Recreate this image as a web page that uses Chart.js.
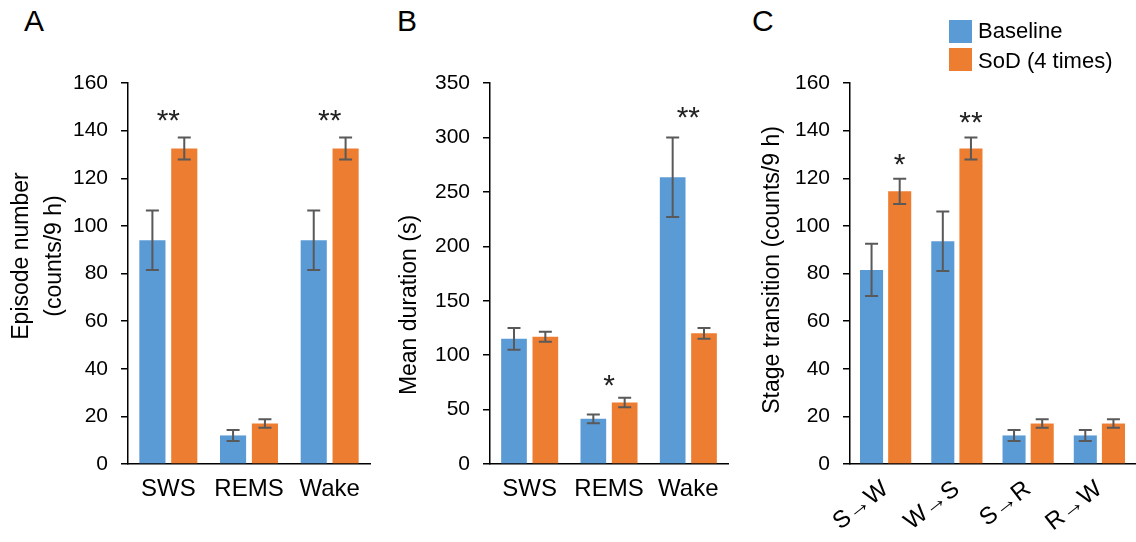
<!DOCTYPE html>
<html>
<head>
<meta charset="utf-8">
<title>Sleep stages</title>
<script src="https://cdn.jsdelivr.net/npm/chart.js@4.4.1/dist/chart.umd.min.js"></script>
<style>
  body { margin: 0; background: #fff; font-family: 'Liberation Sans', Arial, sans-serif; }
  #wrap { position: relative; width: 1136px; height: 542px; overflow: hidden; }
  canvas { position: absolute; top: 0; }
  .letter { position: absolute; top: 6px; font-size: 30px; line-height: 30px; color: #000; }
  .key { position: absolute; left: 949px; width: 23px; height: 23px; }
  .keytext { position: absolute; left: 978px; font-size: 22px; line-height: 22px; color: #000; white-space: nowrap; }
</style>
</head>
<body>
<div id="wrap">
  <div class="letter" style="left:24px">A</div>
  <div class="letter" style="left:397px">B</div>
  <div class="letter" style="left:752px">C</div>

  <canvas id="chartA" width="380" height="542" style="left:0px"></canvas>
  <canvas id="chartB" width="370" height="542" style="left:380px"></canvas>
  <canvas id="chartC" width="386" height="542" style="left:750px"></canvas>

  <div class="key" style="top:20px; background:#5B9BD5"></div>
  <div class="keytext" style="top:20px">Baseline</div>
  <div class="key" style="top:48px; background:#ED7D31"></div>
  <div class="keytext" style="top:50px">SoD (4 times)</div>
</div>

<script>
// colours
const blue = '#5B9BD5';
const orange = '#ED7D31';

// Panel A - episode number
const stageLabels = ['SWS', 'REMS', 'Wake'];
const episodeBaseline = [94, 12, 94];
const episodeBaselineErr = [12.5, 2.3, 12.5];
const episodeSoD = [132.5, 17, 132.5];
const episodeSoDErr = [4.6, 1.8, 4.6];
const episodeStars = ['**', '', '**'];
const episodeStarValues = [147.5, null, 147.5];

// Panel B - mean duration
const durationBaseline = [115, 41.5, 263.5];
const durationBaselineErr = [10, 4, 36.5];
const durationSoD = [117, 56.5, 120];
const durationSoDErr = [4.6, 4.4, 5];
const durationStars = ['', '*', '**'];
const durationStarValues = [null, 79, 325];

// Panel C - stage transitions
const transitionLabels = ['S\u2192W', 'W\u2192S', 'S\u2192R', 'R\u2192W'];
const transitionBaseline = [81.5, 93.5, 12, 12];
const transitionBaselineErr = [11, 12.5, 2.3, 2.3];
const transitionSoD = [114.5, 132.5, 17, 17];
const transitionSoDErr = [5.3, 4.6, 1.8, 1.8];
const transitionStars = ['*', '**', '', ''];
const transitionStarValues = [129, 146.5, null, null];

Chart.defaults.font.family = "'Liberation Sans', Arial, sans-serif";
Chart.defaults.color = '#000';

// draws the +/- error whiskers on top of every bar
const errorBarPlugin = {
    id: 'errorBars',
    afterDatasetsDraw(chart) {
        const ctx = chart.ctx;
        const yScale = chart.scales.y;
        ctx.save();
        ctx.strokeStyle = '#595959';
        ctx.lineWidth = 2;
        chart.data.datasets.forEach((ds, i) => {
            chart.getDatasetMeta(i).data.forEach((bar, j) => {
                const top = yScale.getPixelForValue(ds.data[j] + ds.err[j]);
                const bottom = yScale.getPixelForValue(ds.data[j] - ds.err[j]);
                ctx.beginPath();
                ctx.moveTo(bar.x, top);
                ctx.lineTo(bar.x, bottom);
                ctx.moveTo(bar.x - 6.5, top);
                ctx.lineTo(bar.x + 6.5, top);
                ctx.moveTo(bar.x - 6.5, bottom);
                ctx.lineTo(bar.x + 6.5, bottom);
                ctx.stroke();
            });
        });
        ctx.restore();
    }
};

// significance asterisks, either over the group or over the SoD bar
function starPlugin(texts, values, overSoD) {
    return {
        id: 'stars',
        afterDatasetsDraw(chart) {
            const ctx = chart.ctx;
            const xScale = chart.scales.x;
            const yScale = chart.scales.y;
            const sodBars = chart.getDatasetMeta(1).data;
            ctx.save();
            ctx.fillStyle = '#222';
            ctx.font = "30px 'Liberation Sans', Arial, sans-serif";
            ctx.textAlign = 'center';
            ctx.textBaseline = 'alphabetic';
            texts.forEach((t, i) => {
                if (!t) return;
                const x = overSoD ? sodBars[i].x : xScale.getPixelForValue(i);
                const y = yScale.getPixelForValue(values[i]);
                ctx.fillText(t, x, y + 17);
            });
            ctx.restore();
        }
    };
}

// rotated y axis title placed like the original figure
function sideTitlePlugin(lines, x, y) {
    return {
        id: 'sideTitle',
        afterDraw(chart) {
            const ctx = chart.ctx;
            ctx.save();
            ctx.translate(x, y);
            ctx.rotate(-Math.PI / 2);
            ctx.fillStyle = '#000';
            ctx.font = "23px 'Liberation Sans', Arial, sans-serif";
            ctx.textAlign = 'center';
            ctx.textBaseline = 'middle';
            lines.forEach((line, k) => ctx.fillText(line, 0, k * 33));
            ctx.restore();
        }
    };
}

function createPanel(id, cfg) {
    const ctx = document.getElementById(id).getContext('2d');
    return new Chart(ctx, {
        type: 'bar',
        data: {
            labels: cfg.labels,
            datasets: [
                { label: 'Baseline', data: cfg.baseline, err: cfg.baselineErr, backgroundColor: blue },
                { label: 'SoD (4 times)', data: cfg.sod, err: cfg.sodErr, backgroundColor: orange }
            ]
        },
        options: {
            responsive: false,
            animation: false,
            devicePixelRatio: 1,
            categoryPercentage: 0.79,
            barPercentage: 0.82,
            layout: { padding: { top: 83, right: cfg.padRight, left: 0, bottom: 0 } },
            plugins: {
                legend: { display: false },
                tooltip: { enabled: false }
            },
            scales: {
                x: {
                    grid: { display: false, drawTicks: false },
                    border: { display: true, color: '#000', width: 1.5 },
                    ticks: {
                        color: '#000',
                        font: { size: 24 },
                        padding: 11,
                        autoSkip: false,
                        minRotation: cfg.rotate || 0,
                        maxRotation: cfg.rotate || 0
                    },
                    afterFit: function(scale) { scale.height = 78; }
                },
                y: {
                    min: 0,
                    max: cfg.yMax,
                    grid: { drawOnChartArea: false, drawTicks: true, tickLength: 7, color: '#000', lineWidth: 1.5 },
                    border: { display: true, color: '#000', width: 1.5 },
                    ticks: { stepSize: cfg.yStep, color: '#000', font: { size: 21 }, padding: 13 },
                    afterFit: function(scale) { scale.width = cfg.yWidth; }
                }
            }
        },
        plugins: [
            errorBarPlugin,
            starPlugin(cfg.stars, cfg.starValues, cfg.overSoD),
            sideTitlePlugin(cfg.title, cfg.titleX, cfg.titleY)
        ]
    });
}

createPanel('chartA', {
    labels: stageLabels,
    baseline: episodeBaseline, baselineErr: episodeBaselineErr,
    sod: episodeSoD, sodErr: episodeSoDErr,
    stars: episodeStars, starValues: episodeStarValues, overSoD: false,
    yMax: 160, yStep: 20, yWidth: 128, padRight: 10,
    title: ['Episode number', '(counts/9 h)'], titleX: 22, titleY: 256
});

createPanel('chartB', {
    labels: stageLabels,
    baseline: durationBaseline, baselineErr: durationBaselineErr,
    sod: durationSoD, sodErr: durationSoDErr,
    stars: durationStars, starValues: durationStarValues, overSoD: false,
    yMax: 350, yStep: 50, yWidth: 110, padRight: 22,
    title: ['Mean duration (s)'], titleX: 30, titleY: 305
});

createPanel('chartC', {
    labels: transitionLabels,
    baseline: transitionBaseline, baselineErr: transitionBaselineErr,
    sod: transitionSoD, sodErr: transitionSoDErr,
    stars: transitionStars, starValues: transitionStarValues, overSoD: true,
    yMax: 160, yStep: 20, yWidth: 100, padRight: 1, rotate: 38,
    title: ['Stage transition (counts/9 h)'], titleX: 23, titleY: 270
});
</script>
</body>
</html>
